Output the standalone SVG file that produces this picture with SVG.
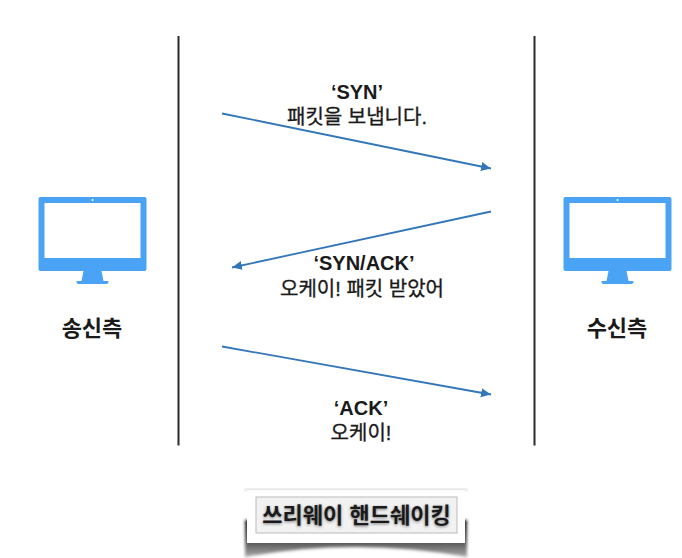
<svg xmlns="http://www.w3.org/2000/svg" width="682" height="558" viewBox="0 0 682 558">
<style>
text{font-family:"Liberation Sans","Noto Sans CJK KR",sans-serif;text-anchor:middle;fill:#1a1a1a;font-size:20px}
.b{font-weight:bold}
.m{stroke:#1a1a1a;stroke-width:.35}
.side{font-size:22px;font-weight:bold}
.life{stroke:#2a2a2a;stroke-width:2;fill:none}
.arrow{stroke:#3477b9;stroke-width:1.8;fill:none;marker-end:url(#ah)}
.mon{fill:#4aa3f5}
</style>
<defs>
<marker id="ah" markerUnits="userSpaceOnUse" markerWidth="12" markerHeight="10" refX="10" refY="4.500" orient="auto"><path d="M0 0L10 4.500L0 9Z" fill="#3477b9"/></marker>
<g id="monitor">
<rect x="38.500" y="197" width="108" height="74" rx="2" class="mon"/>
<rect x="44.500" y="203" width="96" height="55" fill="#fff"/>
<circle cx="92.500" cy="200" r="1" fill="#fff"/>
<path d="M83.500 271H101.500L103.500 281H108.500Q108.500 284 106.500 284H78.500Q76.500 284 76.500 281H81.500Z" class="mon"/>
</g>
<linearGradient id="sh" x1="0" y1="0" x2="0" y2="1"><stop offset="0" stop-color="#111"/><stop offset=".6" stop-color="#555"/><stop offset="1" stop-color="#aaa"/></linearGradient>
<filter id="bl" x="-10%" y="-50%" width="120%" height="200%"><feGaussianBlur stdDeviation="1.500"/></filter>
<filter id="bs" x="-10%" y="-30%" width="120%" height="160%"><feGaussianBlur stdDeviation="1.500"/></filter>
</defs>
<g id="connectors">
<path class="life" d="M178.500 36V445.500"/>
<path class="life" d="M534.500 36V445.500"/>
<path class="arrow" d="M222 113.500L491 168.500"/>
<path class="arrow" d="M491 211.500L232 267.500"/>
<path class="arrow" d="M222 346.500L491 394.500"/>
</g>
<g id="sender"><use href="#monitor"/><text class="side" x="92" y="336">송신측</text></g>
<g id="receiver"><use href="#monitor" x="525"/><text class="side" x="617" y="336">수신측</text></g>
<g id="label-syn"><text class="b" x="357" y="99">‘SYN’</text><text class="m" x="357" y="124">패킷을 보냅니다.</text></g>
<g id="label-synack"><text class="b" x="364" y="270">‘SYN/ACK’</text><text class="m" x="362" y="296">오케이! 패킷 받았어</text></g>
<g id="label-ack"><text class="b" x="361" y="415">‘ACK’</text><text class="m" x="361" y="440">오케이!</text></g>
<g id="title">
<path d="M245 520H467V557Q356 537 245 557Z" fill="url(#sh)" filter="url(#bl)"/>
<rect x="245" y="489" width="222" height="2" fill="#ccc" filter="url(#bl)"/>
<rect x="247" y="490" width="218" height="53" fill="#fff"/>
<rect x="256" y="497" width="201" height="36" fill="#f2f2f2" stroke="#bbb"/>
<text class="b" x="356.500" y="524" style="font-size:22px;fill:#777" filter="url(#bs)">쓰리웨이 핸드쉐이킹</text>
<text class="b" x="356.500" y="523" style="font-size:22px">쓰리웨이 핸드쉐이킹</text>
</g>
</svg>
